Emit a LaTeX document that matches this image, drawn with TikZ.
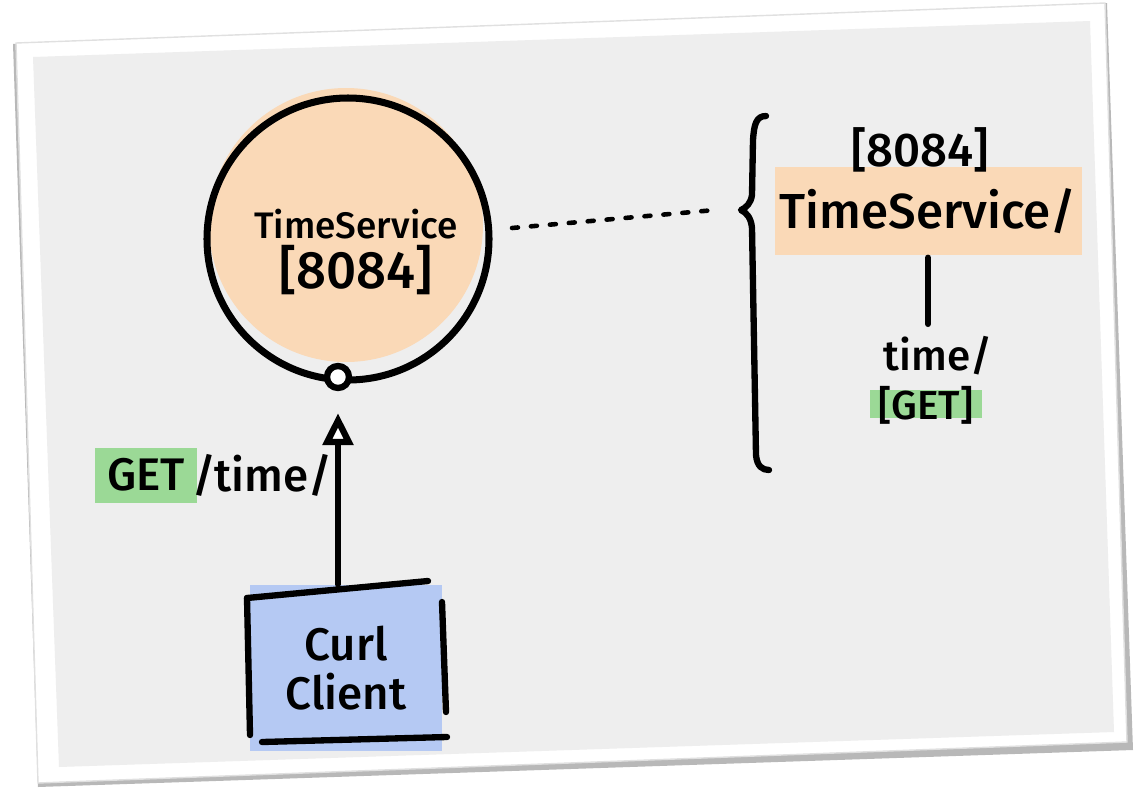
\documentclass[tikz,border=0pt]{standalone}
\usepackage{fontspec}
\setmainfont{Fira Sans}[UprightFont=* Medium]
\usepackage{tikz}
\usetikzlibrary{arrows.meta, positioning}
\definecolor{cardgray}{RGB}{238,238,238}
\definecolor{peach}{RGB}{250,217,183}
\definecolor{sky}{RGB}{181,201,243}
\definecolor{mint}{RGB}{155,217,150}

\begin{document}
\begin{tikzpicture}[x=0.1mm, y=-0.1mm,
    pen/.style={line width=1.8pt, black, line cap=round, line join=round},
    hand/.style={inner sep=0pt, text=black}]
  \useasboundingbox (0,0) rectangle (1136,787);
  % Card and its shadow
  \fill[black!28] (13,44) -- (1107,3) -- (1133,750) -- (38,787) -- cycle;
  \filldraw[white, draw=black!12] (16,43) -- (1105,3) -- (1127,742) -- (38,783) -- cycle;
  \fill[cardgray] (33,57) -- (1090,21) -- (1114,732) -- (59,767) -- cycle;

  % Service circle
  \fill[peach] (346,225) circle[radius=13.7mm];
  \node (svc) [circle, draw, line width=2pt, minimum size=28.2mm] at (348,239) {};
  \node[hand, align=center] at (356,252)
    {\fontsize{10.5}{16}\selectfont TimeService\\[1pt]\fontsize{15}{18}\selectfont [8084]};
  \node (port) [circle, draw, fill=white, line width=1.8pt, minimum size=2.2mm, inner sep=0pt] at (338,377) {};

  % Client box
  \node (client) [fill=sky, minimum width=19.2mm, minimum height=16.6mm, inner sep=0pt,
    align=center, font=\fontsize{13}{14}\selectfont] at (346,668) {Curl\\Client};
  \draw[pen] (247,598) -- (428,581);
  \draw[pen] (247,598) -- (250,735);
  \draw[pen] (442,602) -- (446,712);
  \draw[pen] (262,742) -- (447,737);

  % Request
  \draw[pen, -{Triangle[fill=white, length=3.2mm, width=3mm]}]
    (client.north -| port.south) -- ([yshift=-2.2mm]port.south);
  \node (getlbl) [fill=mint, hand, minimum width=10.2mm, minimum height=5.5mm,
    font=\fontsize{13}{15}\selectfont] at (146,475) {GET};
  \node (pathlbl) [hand, right=-0.6mm of getlbl, font=\fontsize{13}{15}\selectfont] {/time/};

  % Link to the resource tree
  \coordinate (dotstart) at (512,228);
  \coordinate (bracetip) at (741,210);
  \draw[line width=1.3pt, line cap=round, dash pattern=on 0.6mm off 1.3mm]
    (dotstart) -- ([xshift=-2.6mm]bracetip);
  \draw[pen] (766,116) .. controls (756,116) and (754,125) .. (753,140) -- (752,195)
    .. controls (751,203) and (746,208) .. (bracetip)
    .. controls (747,213) and (751,218) .. (752,228) -- (756,455)
    .. controls (757,466) and (762,470) .. (769,470);

  % Resource tree
  \node (rsvc) [fill=peach, hand, minimum width=30.7mm, minimum height=8.8mm,
    font=\fontsize{14}{16}\selectfont] at (928,211) {TimeService/};
  \node (rport) [hand, font=\fontsize{13.5}{16}\selectfont] at (920,150) {[8084]};
  \node (rtime) [hand, font=\fontsize{12}{14}\selectfont] at (938,356) {time/};
  \draw[pen] ([yshift=-0.2mm]rsvc.south) -- ([yshift=1.2mm]rsvc.south |- rtime.north);
  \node (rgetbg) [fill=mint, minimum width=11.2mm, minimum height=2.8mm, inner sep=0pt] at (926,404) {};
  \node (rget) [hand, font=\fontsize{11.5}{14}\selectfont] at (926,405) {[GET]};
\end{tikzpicture}
\end{document}
